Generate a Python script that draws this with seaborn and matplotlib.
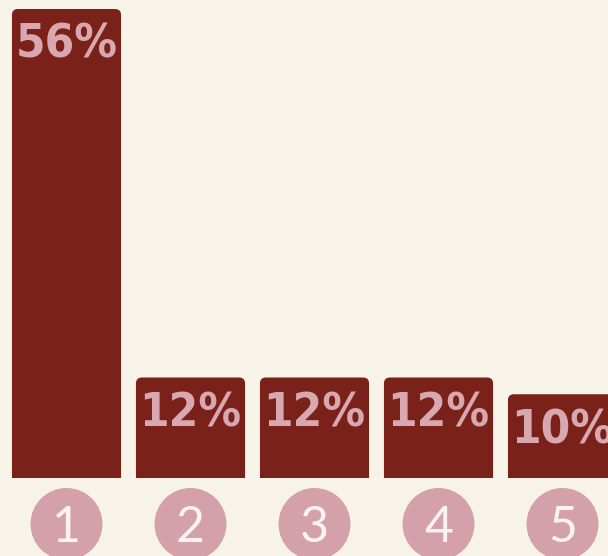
import matplotlib
matplotlib.use("Agg")
import matplotlib.pyplot as plt
from matplotlib import font_manager as fm
from matplotlib.patches import FancyBboxPatch, Rectangle
import seaborn as sns
import pandas as pd

ranks = ["1", "2", "3", "4", "5"]
shares = [56, 12, 12, 12, 10]
share_labels = ["56%", "12%", "12%", "12%", "10%"]

BG = "#f8f3e8"
BAR = "#7a2119"
LABEL = "#d8a7b0"
BADGE = "#d4a1ab"
BADGE_TEXT = "#fbf3f1"

sns.set_theme(style="white")
plt.rcParams["font.family"] = ["DejaVu Sans"]


def narrow_bold_font():
    """Pick the narrowest bold face available, falling back to DejaVu Sans Bold."""
    scored = []
    for f in fm.fontManager.ttflist:
        name = f.name.lower()
        style_name = f.fname.lower()
        narrow = ("condensed" in name or "narrow" in name or "condensed" in style_name
                  or "narrow" in style_name or f.stretch in ("condensed", "semi-condensed",
                                                             "extra-condensed", 300, 400))
        w = f.weight if isinstance(f.weight, int) else {"bold": 700, "semibold": 600,
                                                         "heavy": 800, "black": 900}.get(f.weight, 400)
        if narrow and w >= 600 and "oblique" not in style_name and "italic" not in style_name:
            scored.append(f.fname)
    if scored:
        return fm.FontProperties(fname=sorted(scored)[0])
    return fm.FontProperties(family="DejaVu Sans", weight="bold")


label_font = narrow_bold_font()

W, H, DPI = 608, 556, 100
fig = plt.figure(figsize=(W / DPI, H / DPI), dpi=DPI, facecolor=BG)
ax = fig.add_axes([0, 0, 1, 1], facecolor=BG)

df = pd.DataFrame({"rank": ranks, "share": shares})
bar_width = 0.88
sns.barplot(data=df, x="rank", y="share", color=BAR, width=bar_width,
            saturation=1, ax=ax)

# pixel geometry of the plot area
pitch_px = 124.0          # distance between bar centers
first_center_px = 66.5
base_px = 478.0           # baseline, from top
px_per_unit = 469.0 / 56.0

ax.set_xlim(-first_center_px / pitch_px, (W - first_center_px) / pitch_px)
ax.set_ylim(-(H - base_px) / px_per_unit, base_px / px_per_unit)
ax.set_axis_off()

# replace square bars with bars that have rounded top corners
radius_px = 6.0
aspect = (1 / px_per_unit) / (1 / pitch_px)
for rect in list(ax.patches):
    x, w, h = rect.get_x(), rect.get_width(), rect.get_height()
    rect.remove()
    extra = radius_px * 2 / px_per_unit
    fb = FancyBboxPatch((x, -extra), w, h + extra,
                        boxstyle=f"round,pad=0,rounding_size={radius_px / pitch_px}",
                        mutation_aspect=aspect, facecolor=BAR, edgecolor="none",
                        zorder=2)
    ax.add_patch(fb)
    clip = Rectangle((x - 0.1, 0), w + 0.2, h + 5, transform=ax.transData)
    fb.set_clip_path(clip)

# value labels inside the bars, sized so the widest fits the bar
renderer = fig.canvas.get_renderer()
probe = ax.text(0, 0, "56%", fontproperties=label_font, fontsize=40)
probe_w = probe.get_window_extent(renderer).width
probe.remove()
label_size = min(40 * 102.0 / probe_w, 56)

for i, (v, lab) in enumerate(zip(shares, share_labels)):
    ax.annotate(lab, xy=(i, v), xytext=(0, -10), textcoords="offset points",
                ha="center", va="top", fontproperties=label_font,
                fontsize=label_size, color=LABEL, zorder=3)

# numbered badges under the bars
badge_y = -(524 - base_px) / px_per_unit
badge_d_pt = 72 * 72 / DPI
ax.scatter(range(len(ranks)), [badge_y] * len(ranks), s=badge_d_pt ** 2,
           color=BADGE, edgecolor="none", zorder=2, clip_on=False)
for i, r in enumerate(ranks):
    ax.text(i, badge_y, r, ha="center", va="center_baseline", fontsize=36,
            family=["Lato", "DejaVu Sans"], fontweight="normal",
            color=BADGE_TEXT, zorder=3)

fig.savefig("out.png", dpi=DPI, facecolor=BG)
